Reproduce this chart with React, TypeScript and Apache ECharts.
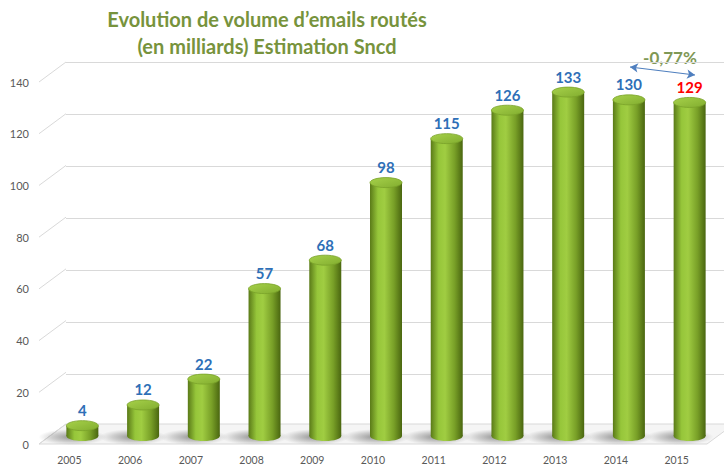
import React, { useEffect, useRef } from "react";
import * as echarts from "echarts";

const years = ["2005", "2006", "2007", "2008", "2009", "2010", "2011", "2012", "2013", "2014", "2015"];
const volumes = [4, 12, 22, 57, 68, 98, 115, 126, 133, 130, 129];
const yTicks = [0, 20, 40, 60, 80, 100, 120, 140];
const titleLines = ["Evolution de volume d’emails routés", "(en milliards) Estimation Sncd"];
const changeLabel = "-0,77%";

const DX = 27; // depth offset (px) of back wall
const DY = -20;
const MID_DX = 13;
const MID_DY = -8;
const FONT = "Lato, 'Open Sans', sans-serif";

export default function App() {
  const ref = useRef<HTMLDivElement>(null);
  useEffect(() => {
    if (!ref.current) return;
    const chart = echarts.init(ref.current, null, { renderer: "svg" });

    const bodyGrad = () =>
      new echarts.graphic.LinearGradient(0, 0, 1, 0, [
        { offset: 0, color: "#5a7a18" },
        { offset: 0.25, color: "#96c63a" },
        { offset: 0.45, color: "#a0cd42" },
        { offset: 0.75, color: "#789f27" },
        { offset: 1, color: "#4a6610" },
      ]);

    const option: any = {
      animation: false,
      backgroundColor: "#ffffff",
      grid: [
        { left: 39, right: 17, top: 82, bottom: 19 },
        { left: 39 + DX, right: 17 - DX, top: 82 + DY, bottom: 19 - DY },
      ],
      xAxis: [
        {
          type: "category",
          gridIndex: 0,
          data: years,
          axisLine: { show: false },
          axisTick: { show: false },
          axisLabel: { color: "#595959", fontSize: 10.5, fontFamily: FONT, margin: 10 },
        },
        {
          type: "category",
          gridIndex: 1,
          data: years,
          show: false,
        },
      ],
      yAxis: [
        {
          type: "value",
          gridIndex: 0,
          min: 0,
          max: 140,
          interval: 20,
          axisLine: { show: false },
          axisTick: { show: false },
          splitLine: { show: false },
          axisLabel: { color: "#595959", fontSize: 11, fontFamily: FONT, margin: 10 },
        },
        {
          type: "value",
          gridIndex: 1,
          min: 0,
          max: 140,
          interval: 20,
          axisLine: { show: false },
          axisTick: { show: false },
          axisLabel: { show: false },
          splitLine: { show: true, lineStyle: { color: "#d9d9d9", width: 1 } },
        },
      ],
      series: [
        {
          type: "custom",
          name: "frame",
          xAxisIndex: 0,
          yAxisIndex: 0,
          z: 1,
          data: yTicks.map((v) => [0, v]),
          renderItem: (params: any, api: any) => {
            const cs = params.coordSys;
            const y = api.coord([0, api.value(1)])[1];
            const x0 = cs.x;
            const children: any[] = [];
            if (api.value(1) === 0) {
              children.push({
                type: "polygon",
                shape: {
                  points: [
                    [x0, y],
                    [x0 + cs.width, y],
                    [x0 + cs.width + DX, y + DY],
                    [x0 + DX, y + DY],
                  ],
                },
                style: { fill: "#f5f5f5", stroke: "#d9d9d9", lineWidth: 1 },
              });
            }
            children.push({
              type: "line",
              shape: { x1: x0, y1: y, x2: x0 + DX, y2: y + DY },
              style: { stroke: "#d9d9d9", lineWidth: 1 },
            });
            return { type: "group", children };
          },
        },
        {
          type: "custom",
          name: "volumes",
          xAxisIndex: 0,
          yAxisIndex: 0,
          z: 5,
          data: volumes.map((v, i) => [i, v]),
          encode: { x: 0, y: 1 },
          renderItem: (params: any, api: any) => {
            const idx = api.value(0);
            const val = api.value(1);
            const base = api.coord([idx, 0]);
            const top = api.coord([idx, val]);
            const cx = base[0] + MID_DX;
            const by = base[1] + MID_DY;
            const ty = top[1] + MID_DY;
            const rx = 16;
            const ry = 5;
            const isLast = params.dataIndex === volumes.length - 1;
            return {
              type: "group",
              children: [
                {
                  type: "ellipse",
                  shape: { cx: cx - 10, cy: by + 1, rx: 34, ry: 8 },
                  style: {
                    fill: new echarts.graphic.RadialGradient(0.5, 0.5, 0.5, [
                      { offset: 0, color: "rgba(60,60,60,0.55)" },
                      { offset: 0.6, color: "rgba(90,90,90,0.25)" },
                      { offset: 1, color: "rgba(120,120,120,0)" },
                    ]),
                  },
                },
                {
                  type: "ellipse",
                  shape: { cx, cy: by, rx, ry },
                  style: { fill: bodyGrad() },
                },
                {
                  type: "rect",
                  shape: { x: cx - rx, y: ty, width: rx * 2, height: Math.max(0, by - ty) },
                  style: { fill: bodyGrad() },
                },
                {
                  type: "ellipse",
                  shape: { cx, cy: ty, rx, ry },
                  style: {
                    fill: new echarts.graphic.LinearGradient(0, 0, 1, 1, [
                      { offset: 0, color: "#a6d14a" },
                      { offset: 1, color: "#82ad2f" },
                    ]),
                    stroke: "#7aa22a",
                    lineWidth: 0.8,
                  },
                },
                {
                  type: "text",
                  style: {
                    text: String(volumes[params.dataIndex]),
                    x: cx,
                    y: ty - ry - 3,
                    align: "center",
                    verticalAlign: "bottom",
                    fill: isLast ? "#ff0000" : "#2e6fb7",
                    fontSize: 15,
                    fontWeight: "bold",
                    fontFamily: FONT,
                  },
                },
              ],
            };
          },
        },
        {
          type: "line",
          name: "change",
          xAxisIndex: 0,
          yAxisIndex: 0,
          data: [],
          markLine: {
            silent: true,
            symbol: ["arrow", "arrow"],
            symbolSize: [7, 8],
            label: { show: false },
            lineStyle: { color: "#4f7fbf", width: 1.2, type: "solid" },
            data: [[{ x: 630, y: 67 }, { x: 695, y: 75 }]],
          },
        },
      ],
      graphic: [
        {
          type: "text",
          style: {
            text: titleLines[0],
            x: 267,
            y: 19,
            align: "center",
            verticalAlign: "middle",
            fill: "#77933c",
            fontSize: 20,
            fontWeight: "bold",
            fontFamily: FONT,
          },
        },
        {
          type: "text",
          style: {
            text: titleLines[1],
            x: 267,
            y: 46,
            align: "center",
            verticalAlign: "middle",
            fill: "#77933c",
            fontSize: 20,
            fontWeight: "bold",
            fontFamily: FONT,
          },
        },
        {
          type: "text",
          style: {
            text: changeLabel,
            x: 670,
            y: 57,
            align: "center",
            verticalAlign: "middle",
            fill: "#7f9856",
            fontSize: 17,
            fontWeight: "bold",
            fontFamily: FONT,
          },
        },
      ],
    };
    chart.setOption(option);
    return () => chart.dispose();
  }, []);
  return <div ref={ref} style={{ width: 724, height: 465, position: "absolute", left: 0, top: 0 }} />;
}
